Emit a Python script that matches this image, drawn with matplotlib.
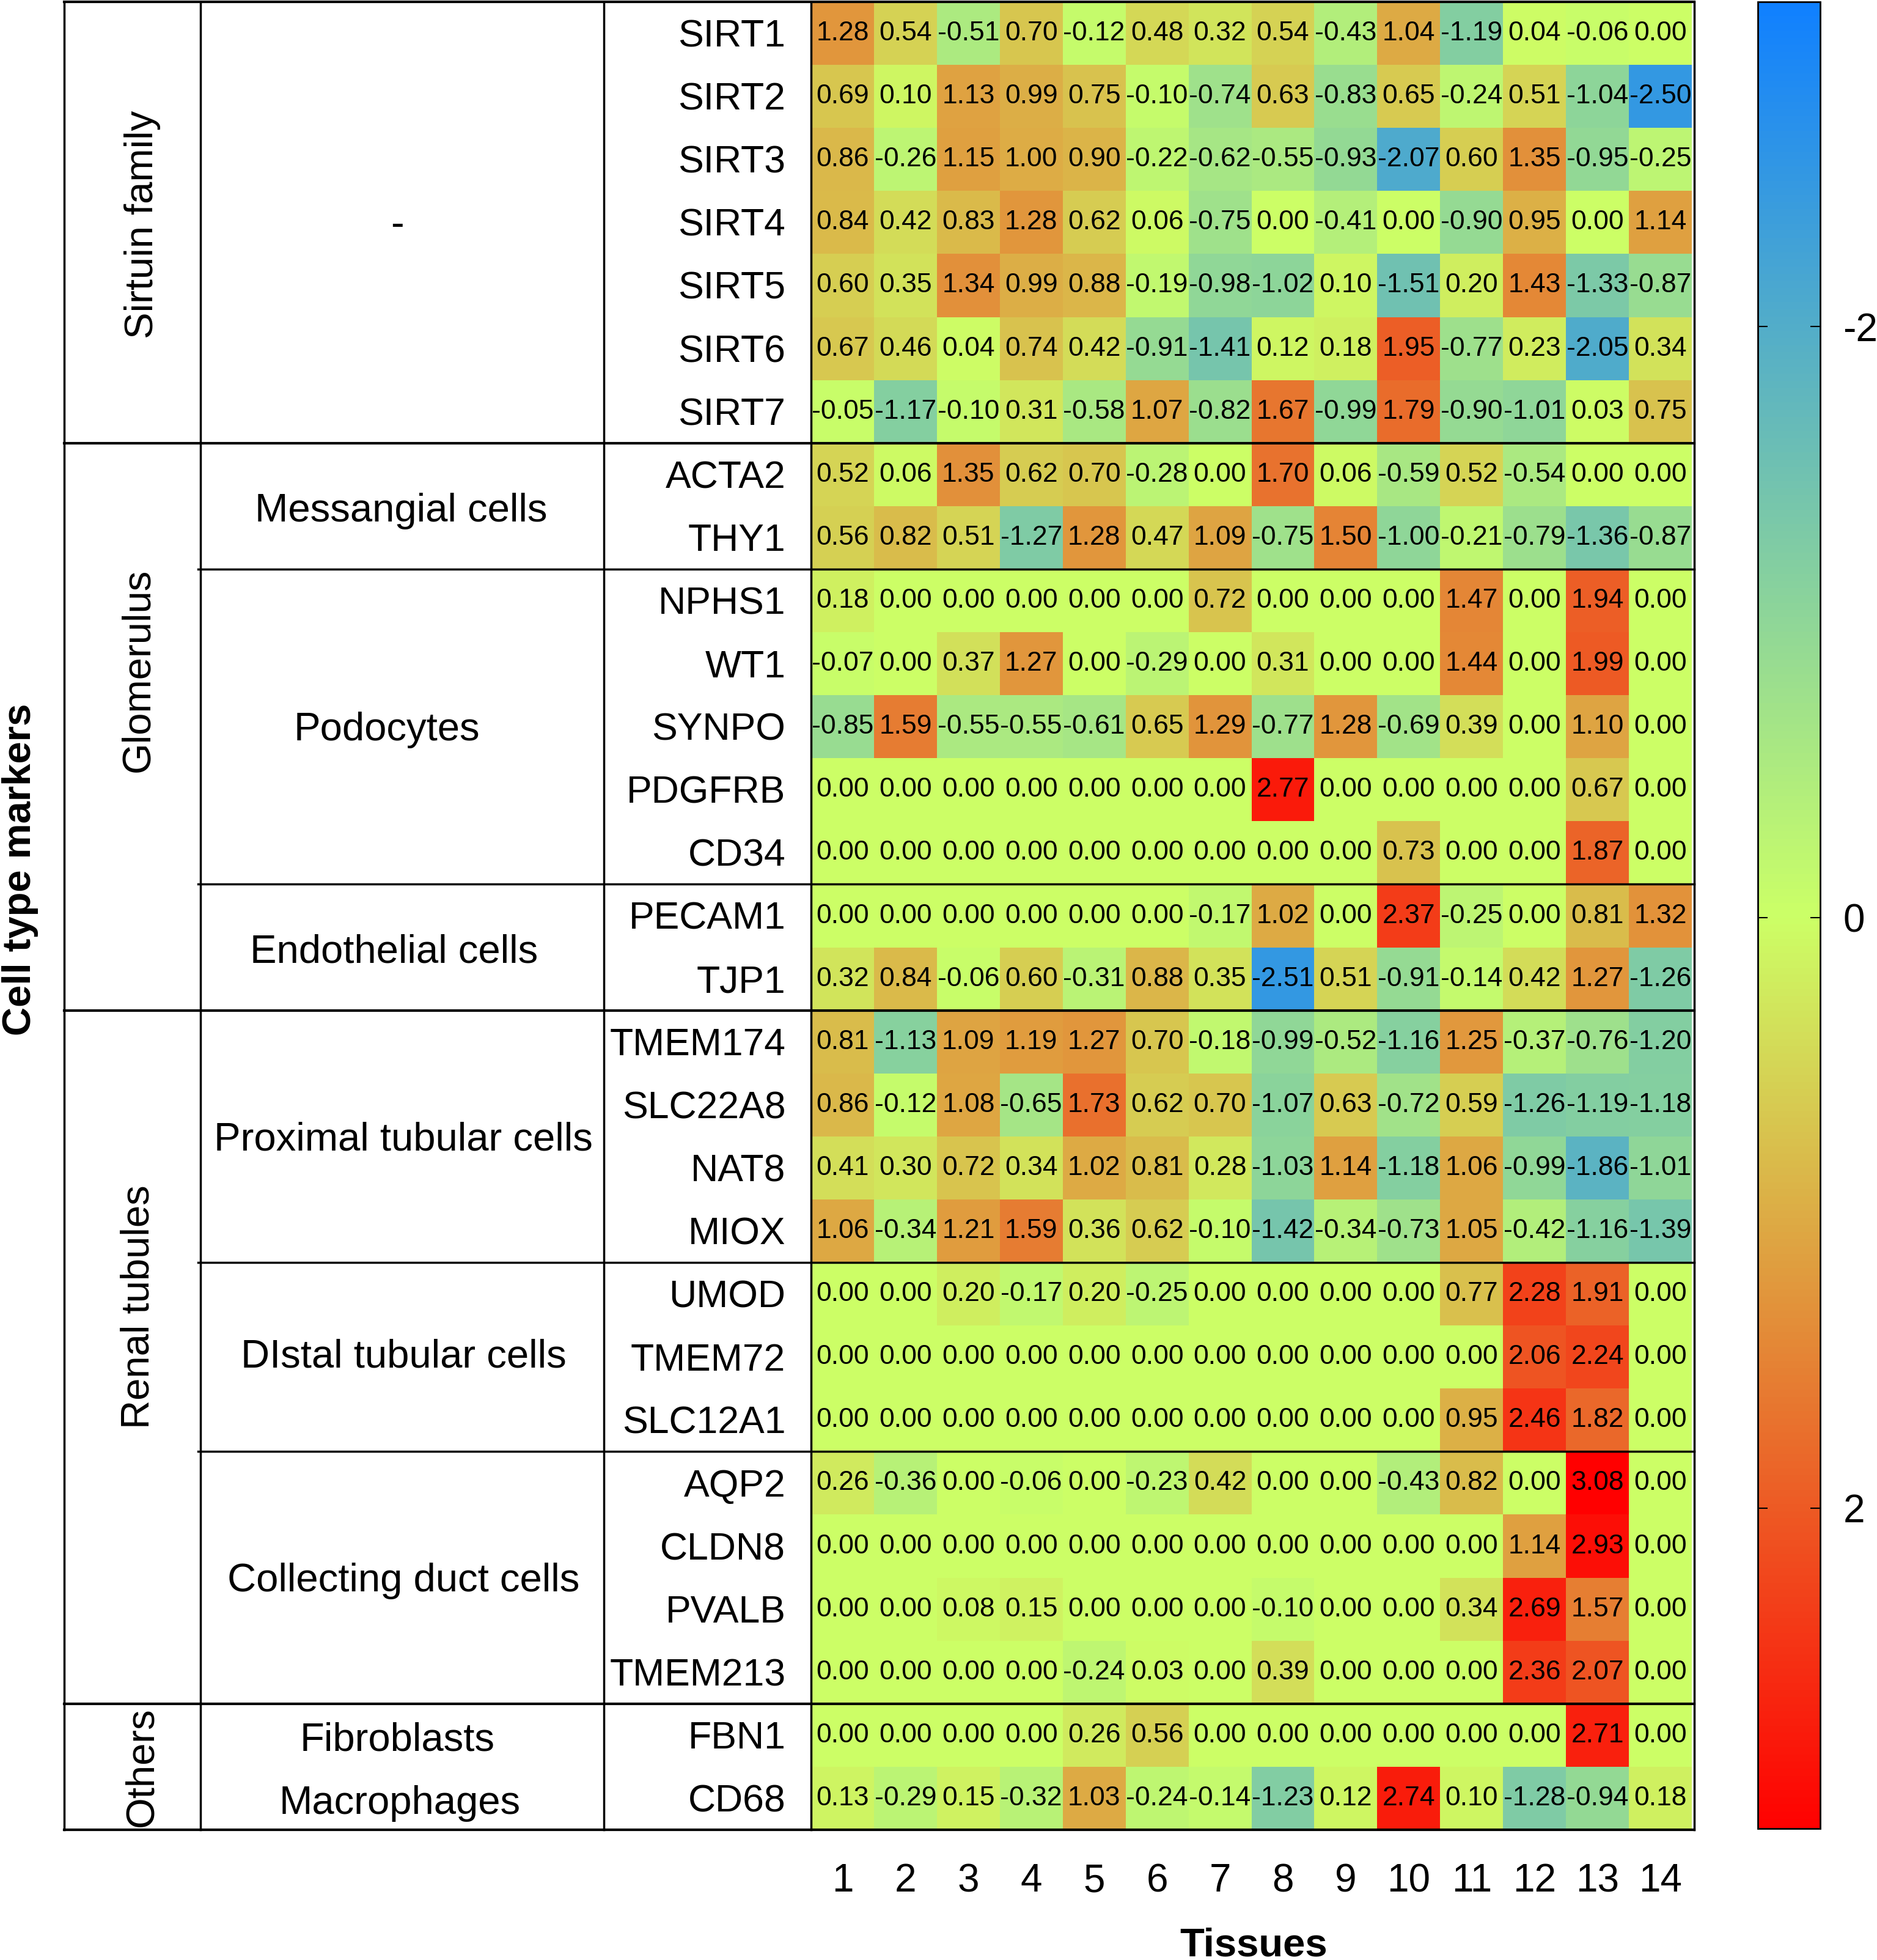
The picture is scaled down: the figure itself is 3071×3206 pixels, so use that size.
"""Heatmap of sirtuin and cell type markers across tissues
"""
import matplotlib
matplotlib.use('Agg')
import matplotlib.pyplot as plt
import numpy as np
from matplotlib.colors import LinearSegmentedColormap, Normalize
from matplotlib.cm import ScalarMappable

plt.rcParams['font.family'] = ['Liberation Sans', 'DejaVu Sans']
plt.rcParams['axes.unicode_minus'] = False

tissues = list(range(1, 15))
genes = ['SIRT1', 'SIRT2', 'SIRT3', 'SIRT4', 'SIRT5', 'SIRT6', 'SIRT7',
         'ACTA2', 'THY1',
         'NPHS1', 'WT1', 'SYNPO', 'PDGFRB', 'CD34',
         'PECAM1', 'TJP1',
         'TMEM174', 'SLC22A8', 'NAT8', 'MIOX',
         'UMOD', 'TMEM72', 'SLC12A1',
         'AQP2', 'CLDN8', 'PVALB', 'TMEM213',
         'FBN1', 'CD68']
values = [
    [1.28, 0.54, -0.51, 0.70, -0.12, 0.48, 0.32, 0.54, -0.43, 1.04, -1.19, 0.04, -0.06, 0.00],
    [0.69, 0.10, 1.13, 0.99, 0.75, -0.10, -0.74, 0.63, -0.83, 0.65, -0.24, 0.51, -1.04, -2.50],
    [0.86, -0.26, 1.15, 1.00, 0.90, -0.22, -0.62, -0.55, -0.93, -2.07, 0.60, 1.35, -0.95, -0.25],
    [0.84, 0.42, 0.83, 1.28, 0.62, 0.06, -0.75, 0.00, -0.41, 0.00, -0.90, 0.95, 0.00, 1.14],
    [0.60, 0.35, 1.34, 0.99, 0.88, -0.19, -0.98, -1.02, 0.10, -1.51, 0.20, 1.43, -1.33, -0.87],
    [0.67, 0.46, 0.04, 0.74, 0.42, -0.91, -1.41, 0.12, 0.18, 1.95, -0.77, 0.23, -2.05, 0.34],
    [-0.05, -1.17, -0.10, 0.31, -0.58, 1.07, -0.82, 1.67, -0.99, 1.79, -0.90, -1.01, 0.03, 0.75],
    [0.52, 0.06, 1.35, 0.62, 0.70, -0.28, 0.00, 1.70, 0.06, -0.59, 0.52, -0.54, 0.00, 0.00],
    [0.56, 0.82, 0.51, -1.27, 1.28, 0.47, 1.09, -0.75, 1.50, -1.00, -0.21, -0.79, -1.36, -0.87],
    [0.18, 0.00, 0.00, 0.00, 0.00, 0.00, 0.72, 0.00, 0.00, 0.00, 1.47, 0.00, 1.94, 0.00],
    [-0.07, 0.00, 0.37, 1.27, 0.00, -0.29, 0.00, 0.31, 0.00, 0.00, 1.44, 0.00, 1.99, 0.00],
    [-0.85, 1.59, -0.55, -0.55, -0.61, 0.65, 1.29, -0.77, 1.28, -0.69, 0.39, 0.00, 1.10, 0.00],
    [0.00, 0.00, 0.00, 0.00, 0.00, 0.00, 0.00, 2.77, 0.00, 0.00, 0.00, 0.00, 0.67, 0.00],
    [0.00, 0.00, 0.00, 0.00, 0.00, 0.00, 0.00, 0.00, 0.00, 0.73, 0.00, 0.00, 1.87, 0.00],
    [0.00, 0.00, 0.00, 0.00, 0.00, 0.00, -0.17, 1.02, 0.00, 2.37, -0.25, 0.00, 0.81, 1.32],
    [0.32, 0.84, -0.06, 0.60, -0.31, 0.88, 0.35, -2.51, 0.51, -0.91, -0.14, 0.42, 1.27, -1.26],
    [0.81, -1.13, 1.09, 1.19, 1.27, 0.70, -0.18, -0.99, -0.52, -1.16, 1.25, -0.37, -0.76, -1.20],
    [0.86, -0.12, 1.08, -0.65, 1.73, 0.62, 0.70, -1.07, 0.63, -0.72, 0.59, -1.26, -1.19, -1.18],
    [0.41, 0.30, 0.72, 0.34, 1.02, 0.81, 0.28, -1.03, 1.14, -1.18, 1.06, -0.99, -1.86, -1.01],
    [1.06, -0.34, 1.21, 1.59, 0.36, 0.62, -0.10, -1.42, -0.34, -0.73, 1.05, -0.42, -1.16, -1.39],
    [0.00, 0.00, 0.20, -0.17, 0.20, -0.25, 0.00, 0.00, 0.00, 0.00, 0.77, 2.28, 1.91, 0.00],
    [0.00, 0.00, 0.00, 0.00, 0.00, 0.00, 0.00, 0.00, 0.00, 0.00, 0.00, 2.06, 2.24, 0.00],
    [0.00, 0.00, 0.00, 0.00, 0.00, 0.00, 0.00, 0.00, 0.00, 0.00, 0.95, 2.46, 1.82, 0.00],
    [0.26, -0.36, 0.00, -0.06, 0.00, -0.23, 0.42, 0.00, 0.00, -0.43, 0.82, 0.00, 3.08, 0.00],
    [0.00, 0.00, 0.00, 0.00, 0.00, 0.00, 0.00, 0.00, 0.00, 0.00, 0.00, 1.14, 2.93, 0.00],
    [0.00, 0.00, 0.08, 0.15, 0.00, 0.00, 0.00, -0.10, 0.00, 0.00, 0.34, 2.69, 1.57, 0.00],
    [0.00, 0.00, 0.00, 0.00, -0.24, 0.03, 0.00, 0.39, 0.00, 0.00, 0.00, 2.36, 2.07, 0.00],
    [0.00, 0.00, 0.00, 0.00, 0.26, 0.56, 0.00, 0.00, 0.00, 0.00, 0.00, 0.00, 2.71, 0.00],
    [0.13, -0.29, 0.15, -0.32, 1.03, -0.24, -0.14, -1.23, 0.12, 2.74, 0.10, -1.28, -0.94, 0.18],
]

# (label, row position) for the two label columns of the table
families = [('Sirtuin family', 3.53, 233), ('Glomerulus', 10.6, 226),
            ('Renal tubules', 20.7, 227), ('Others', 28.0, 232)]
cell_types = [('-', 3.55, 650), ('Messangial cells', 8.08, 656),
              ('Podocytes', 11.55, 633), ('Endothelial cells', 15.08, 645),
              ('Proximal tubular cells', 18.05, 660), ('DIstal tubular cells', 21.5, 660),
              ('Collecting duct cells', 25.05, 660), ('Fibroblasts', 27.58, 650),
              ('Macrophages', 28.58, 654)]
family_rows = [0, 7, 16, 27, 29]
type_rows = [9, 14, 20, 23]

W, H = 3071, 3206
LEFT, RIGHT, TOP, BOTTOM = 1327, 2768, 3, 2993
COL1, COL2, COL3, FRAME = 105, 328, 988, 2772
LIMIT = 3.1


def frac(px):
    # figure pixel to a fraction of the heatmap width
    return (px - LEFT) / (RIGHT - LEFT)


fig = plt.figure(figsize=(W / 100, H / 100), dpi=100)
ax = fig.add_axes([LEFT / W, 1 - BOTTOM / H, (RIGHT - LEFT) / W, (BOTTOM - TOP) / H])

cmap = LinearSegmentedColormap.from_list('heat', ['#1080ff', '#ccff66', '#ff0000'])
norm = Normalize(-LIMIT, LIMIT)
data = np.array(values)
ax.pcolormesh(np.arange(15), np.arange(30), data, cmap=cmap, norm=norm)
ax.set_xlim(0, 14)
ax.set_ylim(29, 0)

for r, row in enumerate(values):
    for c, v in enumerate(row):
        ax.text(c + 0.5, r + 0.5, '%.2f' % v, ha='center', va='center',
                fontsize=32, color='black')

ax.set_yticks(np.arange(29) + 0.49)
ax.set_yticklabels(genes)
ax.set_xticks(np.arange(14) + 0.5)
ax.set_xticklabels(tissues)
ax.tick_params(axis='y', length=0, pad=30, labelsize=45)
ax.tick_params(axis='x', length=0, pad=39, labelsize=46)
for spine in ax.spines.values():
    spine.set_visible(False)

# table rules, x in axes fraction and y in rows
trans = ax.get_yaxis_transform()
for r in family_rows:
    ax.plot([frac(COL1), frac(FRAME)], [r, r], transform=trans, color='black',
            lw=3, clip_on=False, solid_capstyle='projecting')
for r in type_rows:
    ax.plot([frac(COL2 - 4), frac(FRAME)], [r, r], transform=trans, color='black',
            lw=2.5, clip_on=False)
for px in [COL1, COL2, COL3, LEFT, FRAME]:
    ax.plot([frac(px), frac(px)], [0, 29], transform=trans, color='black',
            lw=2.5, clip_on=False)

for label, row, px in families:
    ax.text(frac(px), row, label, transform=trans, rotation=90, ha='center',
            va='center', fontsize=47)
for label, row, px in cell_types:
    ax.text(frac(px), row, label, transform=trans, ha='center', va='center',
            fontsize=47)

ax.text(frac(33), 13.77, 'Cell type markers', transform=trans, rotation=90,
        ha='center', va='center', fontsize=47, fontweight='bold')
ax.text(frac(2051), 30.84, 'Tissues', transform=trans, ha='center', va='center',
        fontsize=47, fontweight='bold')

# colour bar, negative end on top
cax = fig.add_axes([2876 / W, 1 - 2991 / H, 102 / W, 2988 / H])
cbar = fig.colorbar(ScalarMappable(norm=norm, cmap=cmap), cax=cax, ticks=[-2, 0, 2])
cax.set_ylim(3.085, -3.1)
cax.tick_params(left=True, right=True, direction='in', length=11.5, width=1.5,
                labelsize=46, pad=27)
cbar.outline.set_linewidth(2)

fig.savefig('out.png', dpi=100)
